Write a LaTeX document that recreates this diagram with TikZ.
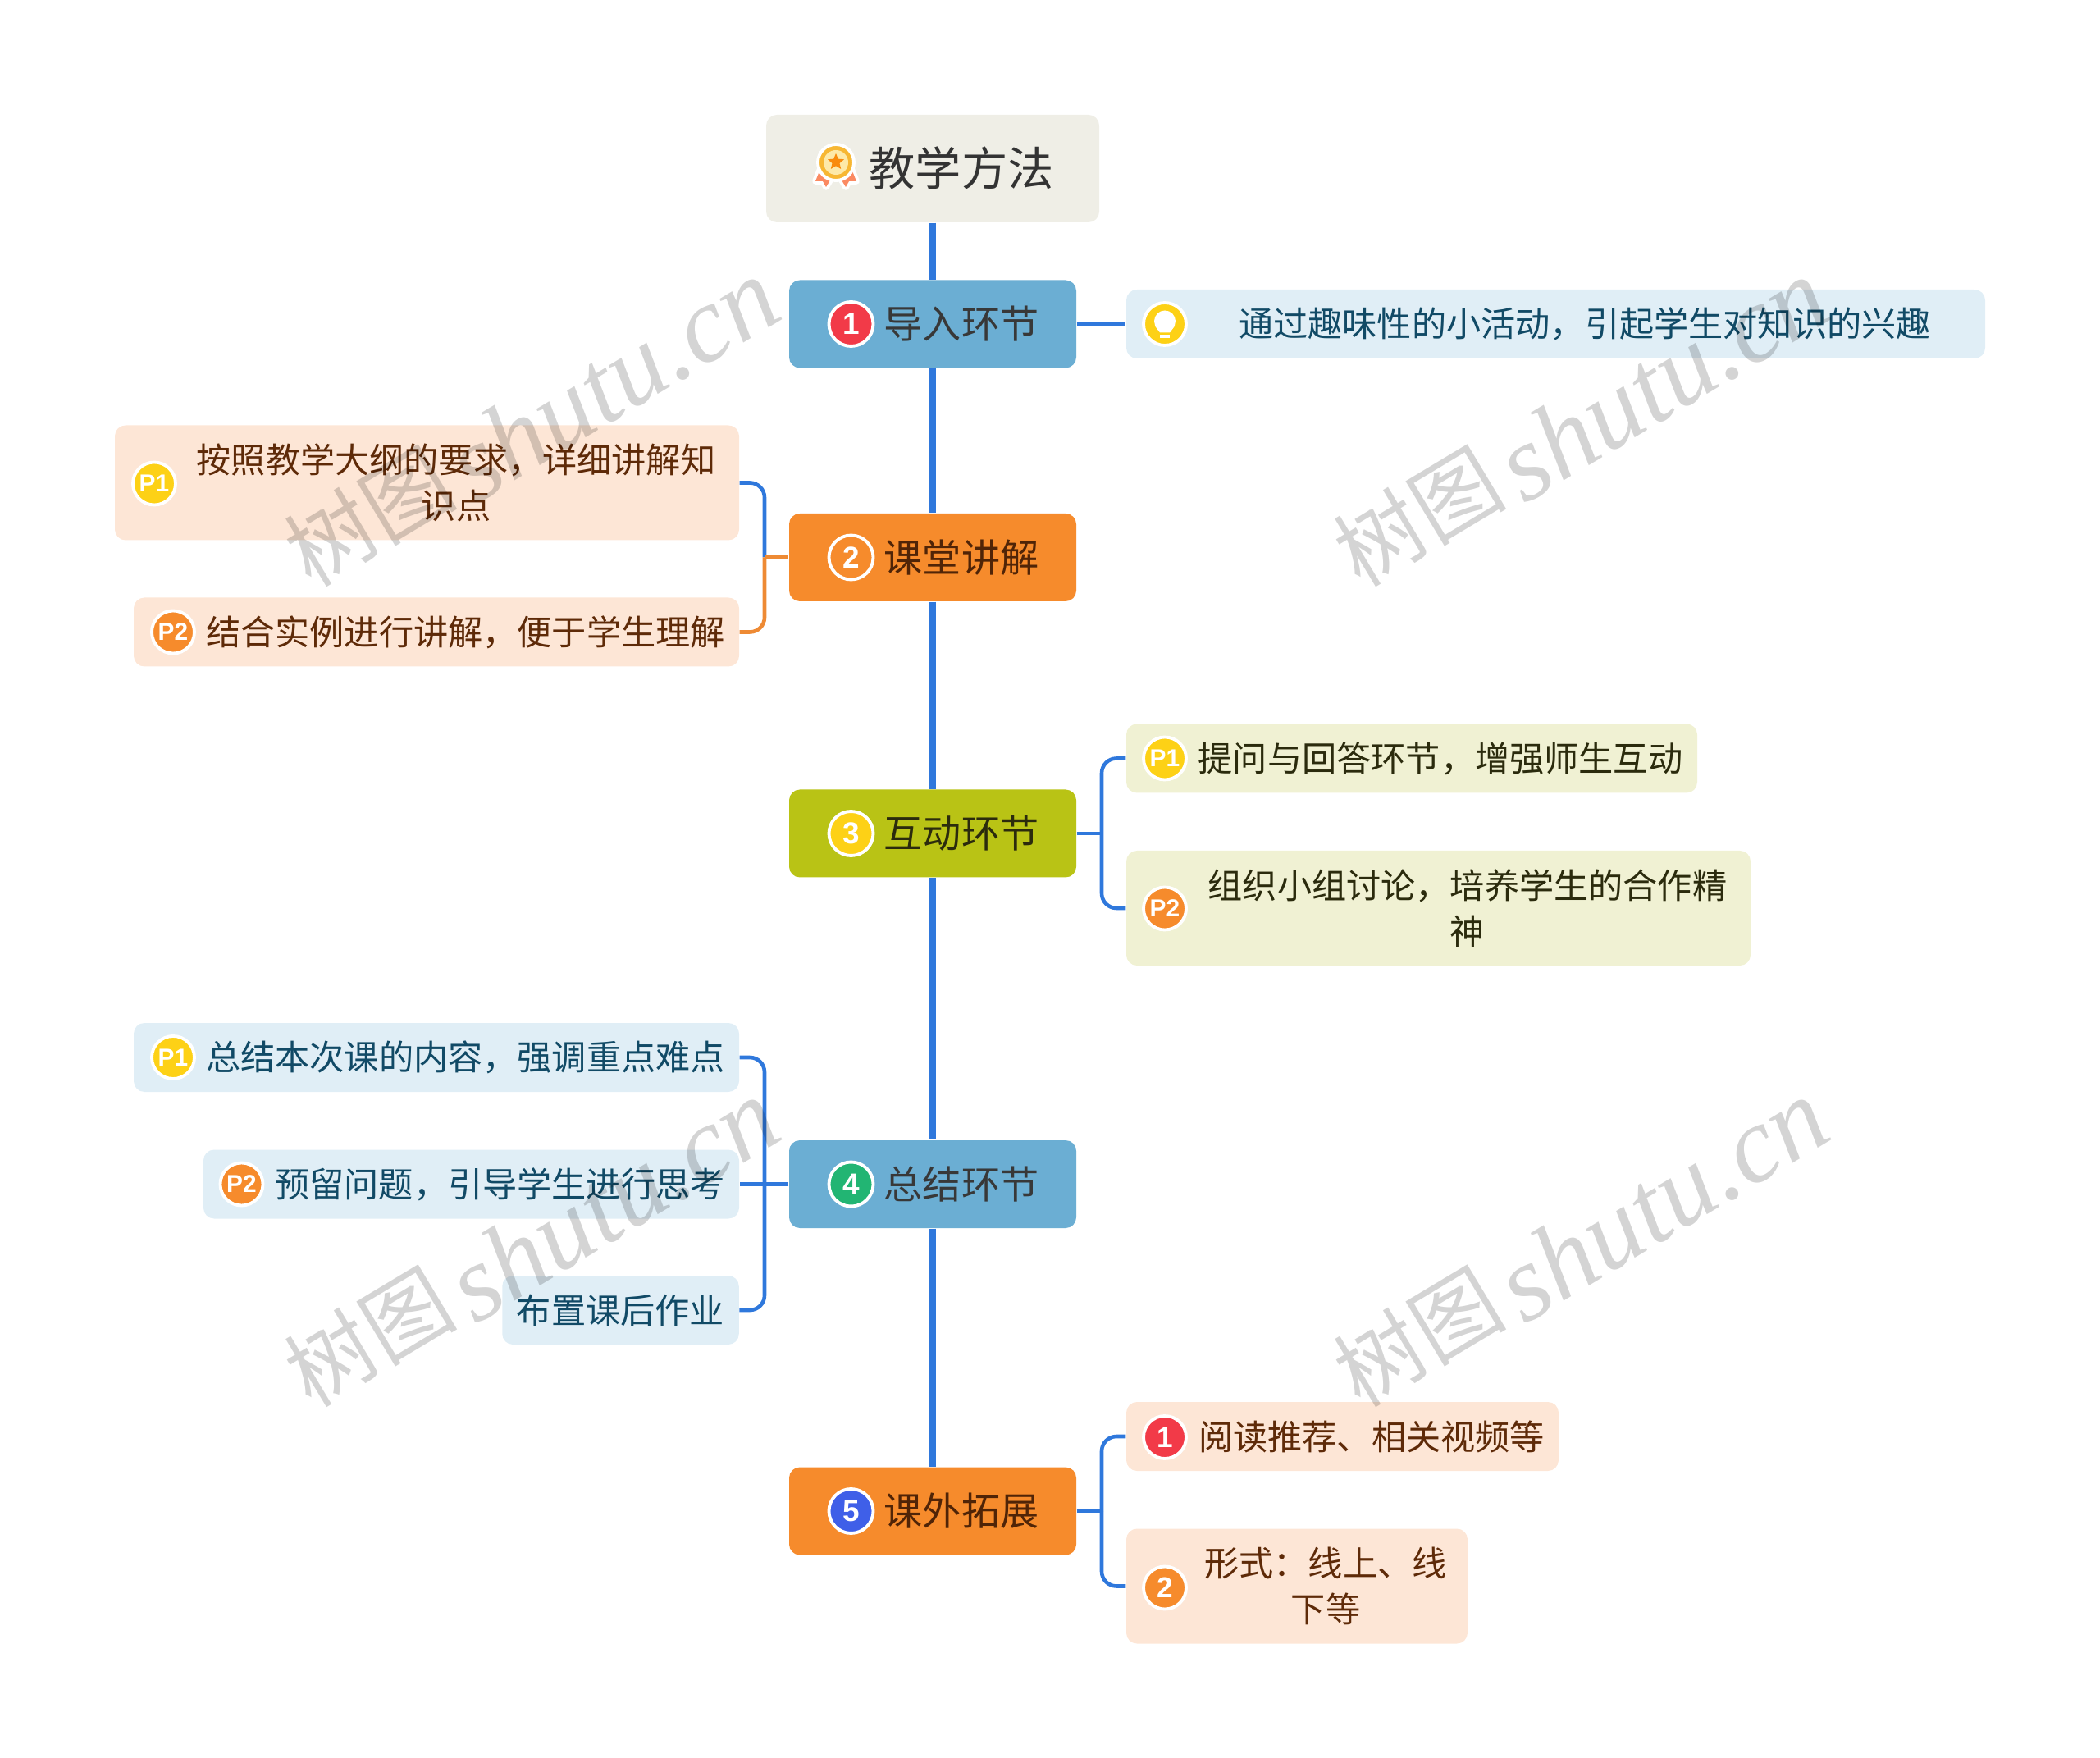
\documentclass[tikz,border=0pt]{standalone}
\usepackage{fontspec}
\setmainfont{Noto Sans CJK SC}
\newfontfamily\badgefont{Liberation Sans}
\newfontfamily\wmserif{Liberation Serif}
\newfontfamily\wmcjk[AutoFakeSlant=0.22]{Noto Sans CJK SC}
\usepackage{tikz}
\usetikzlibrary{shapes.geometric}

\definecolor{rootfill}{HTML}{EFEEE6}
\definecolor{nodeblue}{HTML}{6BAED3}
\definecolor{nodeorange}{HTML}{F68B2C}
\definecolor{nodelime}{HTML}{B9C315}
\definecolor{leafblue}{HTML}{E0EEF6}
\definecolor{leaforange}{HTML}{FDE6D6}
\definecolor{leaflime}{HTML}{F0F1D3}
\definecolor{inkblue}{HTML}{114A66}
\definecolor{inkbrown}{HTML}{5E2A08}
\definecolor{inklime}{HTML}{2B2B0D}
\definecolor{linkblue}{HTML}{2F78DC}
\definecolor{linkorange}{HTML}{EE8A34}
\definecolor{badgered}{HTML}{F23A48}
\definecolor{badgeyellow}{HTML}{FDD116}
\definecolor{badgegreen}{HTML}{22B573}
\definecolor{badgeindigo}{HTML}{3F5FE8}
\definecolor{ribbon}{HTML}{FB8A62}
\definecolor{medalgold}{HTML}{F7B733}
\definecolor{medalpale}{HTML}{FDE9A8}
\definecolor{medalstar}{HTML}{F98B0C}

\newcommand{\wmlabel}{\raisebox{1.5mm}{\wmcjk\fontsize{30}{32}\selectfont 树图}\hspace{0.5mm} {\wmserif\itshape\fontsize{37.5}{40}\selectfont shutu.cn}}

\begin{document}
\begin{tikzpicture}[
  rootnode/.style={rectangle, rounded corners=1.3mm, fill=rootfill, minimum width=40.6mm, minimum height=13.1mm},
  topic/.style={rectangle, rounded corners=1.3mm, minimum width=35mm, minimum height=10.7mm},
  leaf/.style={rectangle, rounded corners=1.3mm, minimum height=8.4mm},
  tallleaf/.style={leaf, minimum height=14mm},
  toptext/.style={inner sep=0pt, font=\fontsize{13.4}{16}\selectfont},
  leaftext/.style={inner sep=0pt, align=center, font=\fontsize{12}{16}\selectfont},
  nbadge/.style={circle, draw=white, line width=1.1pt, minimum size=5.4mm, inner sep=0pt, text=white, font=\badgefont\bfseries\fontsize{10.5}{12}\selectfont},
  pbadge/.style={nbadge, minimum size=5.2mm, font=\badgefont\bfseries\fontsize{8.5}{10}\selectfont},
  qbadge/.style={nbadge, minimum size=5.2mm, font=\badgefont\bfseries\fontsize{10}{12}\selectfont},
  spine/.style={line width=2pt, linkblue},
  branch/.style={line width=1.3pt, linkblue, rounded corners=1.8mm},
  watermark/.style={rotate=31, inner sep=0pt, text=black, text opacity=0.17}
]
\useasboundingbox (0,0) rectangle (25.6,-21.43);

% Central column
\node[rootnode] (root) at (11.37,-2.055) {};
\node[topic, fill=nodeblue]   (n1) at (11.37,-3.95) {};
\node[topic, fill=nodeorange] (n2) at (11.37,-6.795) {};
\node[topic, fill=nodelime]   (n3) at (11.37,-10.16) {};
\node[topic, fill=nodeblue]   (n4) at (11.37,-14.435) {};
\node[topic, fill=nodeorange] (n5) at (11.37,-18.42) {};

\node[inner sep=0pt, text=black!80, font=\fontsize{16}{20}\selectfont] (roottext) at (11.72,-2.05) {教学方法};
\node[toptext, text=black!78]  (n1text) at (11.72,-3.95) {导入环节};
\node[toptext, text=inkbrown!85!black] (n2text) at (11.72,-6.795) {课堂讲解};
\node[toptext, text=inklime]   (n3text) at (11.72,-10.16) {互动环节};
\node[toptext, text=black!78]  (n4text) at (11.72,-14.435) {总结环节};
\node[toptext, text=inkbrown!85!black] (n5text) at (11.72,-18.42) {课外拓展};

\node[nbadge, fill=badgered]    (b1) at (10.375,-3.95) {1};
\node[nbadge, fill=nodeorange]  (b2) at (10.375,-6.795) {2};
\node[nbadge, fill=badgeyellow] (b3) at (10.375,-10.16) {3};
\node[nbadge, fill=badgegreen]  (b4) at (10.375,-14.435) {4};
\node[nbadge, fill=badgeindigo] (b5) at (10.375,-18.42) {5};

% Leaves
\node[leaf, fill=leafblue, minimum width=104.7mm] (la) at (18.965,-3.95) {};
\node[tallleaf, fill=leaforange, minimum width=76.1mm] (lb1) at (5.205,-5.885) {};
\node[leaf, fill=leaforange, minimum width=73.8mm] (lb2) at (5.32,-7.705) {};
\node[leaf, fill=leaflime, minimum width=69.6mm] (lc1) at (17.21,-9.245) {};
\node[tallleaf, fill=leaflime, minimum width=76.1mm] (lc2) at (17.535,-11.07) {};
\node[leaf, fill=leafblue, minimum width=73.8mm] (ld1) at (5.32,-12.89) {};
\node[leaf, fill=leafblue, minimum width=65.3mm] (ld2) at (5.745,-14.435) {};
\node[leaf, fill=leafblue, minimum width=28.85mm] (ld3) at (7.565,-15.97) {};
\node[leaf, fill=leaforange, minimum width=52.7mm] (le1) at (16.365,-17.51) {};
\node[tallleaf, fill=leaforange, minimum width=41.6mm] (le2) at (15.81,-19.335) {};

\node[leaftext, text=inkblue]  (latext) at (19.32,-3.95) {通过趣味性的小活动，引起学生对知识的兴趣};
\node[leaftext, text=inkbrown] (lb1text) at (5.56,-5.885) {按照教学大纲的要求，详细讲解知\\识点};
\node[leaftext, text=inkbrown] (lb2text) at (5.675,-7.705) {结合实例进行讲解，便于学生理解};
\node[leaftext, text=inklime]  (lc1text) at (17.56,-9.245) {提问与回答环节，增强师生互动};
\node[leaftext, text=inklime]  (lc2text) at (17.89,-11.07) {组织小组讨论，培养学生的合作精\\神};
\node[leaftext, text=inkblue]  (ld1text) at (5.675,-12.89) {总结本次课的内容，强调重点难点};
\node[leaftext, text=inkblue]  (ld2text) at (6.095,-14.435) {预留问题，引导学生进行思考};
\node[leaftext, text=inkblue]  (ld3text) at (7.565,-15.97) {布置课后作业};
\node[leaftext, text=inkbrown] (le1text) at (16.72,-17.51) {阅读推荐、相关视频等};
\node[leaftext, text=inkbrown] (le2text) at (16.16,-19.335) {形式：线上、线\\下等};

\node[pbadge, fill=badgeyellow] (pa) at (14.20,-3.95) {};
\node[pbadge, fill=badgeyellow] (pb1) at (1.88,-5.895) {P1};
\node[pbadge, fill=nodeorange]  (pb2) at (2.11,-7.705) {P2};
\node[pbadge, fill=badgeyellow] (pc1) at (14.20,-9.245) {P1};
\node[pbadge, fill=nodeorange]  (pc2) at (14.20,-11.075) {P2};
\node[pbadge, fill=badgeyellow] (pd1) at (2.11,-12.89) {P1};
\node[pbadge, fill=nodeorange]  (pd2) at (2.945,-14.435) {P2};
\node[qbadge, fill=badgered]    (pe1) at (14.20,-17.52) {1};
\node[qbadge, fill=nodeorange]  (pe2) at (14.20,-19.355) {2};

% Bulb icon
\fill[white] (14.20,-3.915) circle (0.13);
\fill[white] (14.08,-3.975) -- (14.32,-3.975) -- (14.26,-4.055) -- (14.14,-4.055) -- cycle;
\fill[white] (14.14,-4.085) rectangle (14.26,-4.125);

% Medal icon
\draw[white, line width=2.2pt, line join=round] (10.00,-2.06) -- (10.13,-2.18) -- (10.07,-2.28) -- (10.03,-2.21) -- (9.94,-2.21) -- cycle;
\draw[white, line width=2.2pt, line join=round] (10.38,-2.06) -- (10.25,-2.18) -- (10.31,-2.28) -- (10.35,-2.21) -- (10.44,-2.21) -- cycle;
\fill[ribbon] (10.00,-2.06) -- (10.13,-2.18) -- (10.07,-2.28) -- (10.03,-2.21) -- (9.94,-2.21) -- cycle;
\fill[ribbon] (10.38,-2.06) -- (10.25,-2.18) -- (10.31,-2.28) -- (10.35,-2.21) -- (10.44,-2.21) -- cycle;
\node[circle, draw=white, line width=1.1pt, fill=medalgold, minimum size=4.4mm, inner sep=0pt] (medal) at (10.19,-1.98) {};
\node[circle, fill=medalpale, minimum size=3mm, inner sep=0pt] (medalin) at (10.19,-1.98) {};
\node[star, star points=5, star point ratio=2.2, fill=medalstar, minimum size=2.1mm, inner sep=0pt] (medalmark) at (10.19,-1.975) {};

% Connectors
\draw[spine] (root.south) -- (n1.north);
\draw[spine] (n1.south) -- (n2.north);
\draw[spine] (n2.south) -- (n3.north);
\draw[spine] (n3.south) -- (n4.north);
\draw[spine] (n4.south) -- (n5.north);

\coordinate (busb) at (9.32,-6.795);
\coordinate (busc) at (13.43,-10.16);
\coordinate (busd) at (9.32,-14.435);
\coordinate (buse) at (13.43,-18.42);

\draw[branch] (n1.east) -- (la.west);
\draw[branch] (busb) |- (lb1.east);
\draw[branch, linkorange] (busb) |- (lb2.east);
\draw[branch, linkorange] (n2.west) -- (busb);
\draw[branch] (busc) |- (lc1.west);
\draw[branch] (busc) |- (lc2.west);
\draw[branch] (n3.east) -- (busc);
\draw[branch] (busd) |- (ld1.east);
\draw[branch] (busd) |- (ld3.east);
\draw[branch] (n4.west) -- (ld2.east);
\draw[branch] (buse) |- (le1.west);
\draw[branch] (buse) |- (le2.west);
\draw[branch] (n5.east) -- (buse);

% Watermarks on top
\node[watermark] (wm1) at (6.47,-5.15) {\wmlabel};
\node[watermark] (wm2) at (19.26,-5.15) {\wmlabel};
\node[watermark] (wm3) at (6.47,-15.15) {\wmlabel};
\node[watermark] (wm4) at (19.26,-15.15) {\wmlabel};
\end{tikzpicture}
\end{document}
